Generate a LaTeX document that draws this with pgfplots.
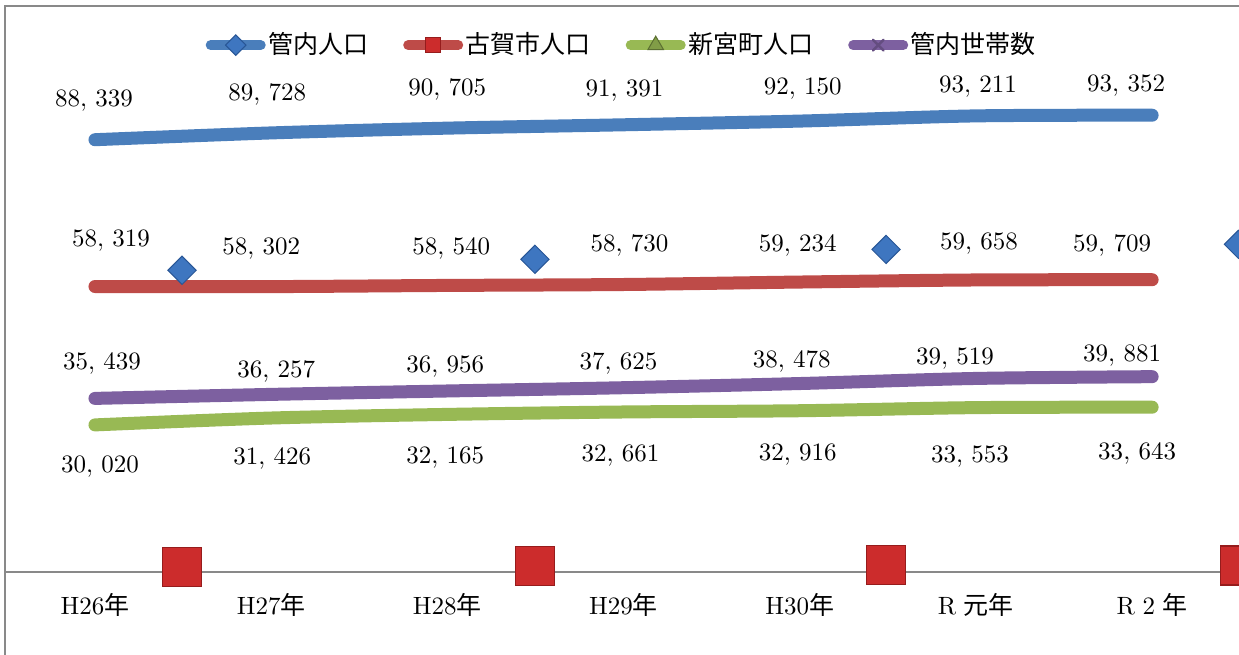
\documentclass[border=0pt]{standalone}
\usepackage{fontspec}
\usepackage{pgfplots}
\usepackage{pgfplotstable}
\pgfplotsset{compat=1.18}
\newfontfamily\cjk{Noto Sans CJK JP}
\definecolor{cblue}{RGB}{74,126,187}
\definecolor{cred}{RGB}{190,75,72}
\definecolor{cgreen}{RGB}{152,185,84}
\definecolor{cpurple}{RGB}{125,96,160}
\definecolor{frame}{RGB}{137,137,137}
\definecolor{dfill}{RGB}{62,118,192}
\definecolor{ddraw}{RGB}{40,86,150}
\definecolor{sfill}{RGB}{204,44,44}
\definecolor{sdraw}{RGB}{150,28,28}

% x y dx(px) dy(px)
\pgfplotstableread{
x y dx dy
0 88339 -1 41.7
1 89728 -4 40.9
2 90705 0 41.1
3 91391 1 36.8
4 92150 3 35.1
5 93211 2 31.9
6 93352 -26 32.2
}\tblue
\pgfplotstableread{
x y dx dy
0 58319 16 48.5
1 58302 -10 40.6
2 58540 4 39.4
3 58730 6 41.5
4 59234 -2 39
5 59658 3 39
6 59709 -40 36.7
}\tred
\pgfplotstableread{
x y dx dy
0 30020 5 -40
1 31426 1 -38
2 32165 -2 -40.6
3 32661 -3 -41
4 32916 -2 -41.3
5 33553 -6 -46.4
6 33643 -15 -43.8
}\tgreen
\pgfplotstableread{
x y dx dy
0 35439 7 37.4
1 36257 5 25.4
2 36956 -2 27
3 37625 -5 26.7
4 38478 -8 24.5
5 39519 -21 21.5
6 39881 -30 23.7
}\tpurple
\pgfplotstableread{
x y
0.494 61630
2.497 63880
4.49 65900
6.49 66940
}\tdiam
\pgfplotstableread{
x y
0.494 1000
2.497 1150
4.49 1400
6.50 1300
}\tsq

\pgfplotsset{
  lab/.style={
    nodes near coords,
    point meta=y,
    visualization depends on={\thisrow{dx}\as\dx},
    visualization depends on={\thisrow{dy}\as\dy},
    every node near coord/.append style={anchor=center, inner sep=0pt, text depth=0pt,
      font=\fontsize{10}{12}\selectfont, text=black,
      xshift=\dx*0.4pt, yshift=\dy*0.4pt},
    nodes near coords={\pgfmathprintnumber[fixed,precision=0,1000 sep={,\,}]{\pgfplotspointmeta}},
  },
  serie/.style={smooth, line width=5.2pt, line cap=round, no marks, forget plot},
}

\begin{document}
\begin{tikzpicture}
\useasboundingbox (0,0) rectangle (495.6pt,262pt);
\draw[frame, line width=0.8pt] (2pt,0pt) -- (2pt,259.4pt) -- (495.6pt,259.4pt);
\draw[frame, line width=0.8pt] (2pt,33.32pt) -- (495.6pt,33.32pt);
\begin{axis}[
  at={(0pt,33.32pt)}, anchor=south west,
  scale only axis, width=495.6pt, height=228.68pt,
  xmin=-0.539, xmax=6.493, ymin=0, ymax=116912,
  axis line style={draw=none}, major tick length=0pt,
  ytick=\empty, xtick={0,1,2,3,4,5,6},
  xticklabels={H26{\cjk 年},H27{\cjk 年},H28{\cjk 年},H29{\cjk 年},H30{\cjk 年},R\hspace{0.3em}{\cjk 元年},R\hspace{0.3em}2\hspace{0.3em}{\cjk 年}},
  xticklabel style={font=\fontsize{10}{12}\selectfont, yshift=-5pt},
  clip=false,
  legend columns=4,
  legend style={draw=none, fill=none, at={(0.5020,0.921)}, anchor=center,
    font=\fontsize{10}{12}\selectfont\cjk,
    /tikz/every odd column/.append style={column sep=0pt},
    /tikz/every even column/.append style={column sep=13pt},
    nodes={inner sep=1pt}},
  legend image code/.code={\draw[mark repeat=2, mark phase=2, #1] plot coordinates {(2pt,0pt) (12pt,0pt) (22pt,0pt)};},
]
% stray markers
\addplot[only marks, mark=square*, mark size=4pt, forget plot,
  mark options={rotate=45, fill=dfill, draw=ddraw, line width=0.4pt}] table[x=x,y=y]{\tdiam};
\addplot[only marks, mark=square*, mark size=7.8pt, forget plot,
  mark options={fill=sfill, draw=sdraw, line width=0.6pt}] table[x=x,y=y]{\tsq};
% series
\addplot[serie, cblue, lab] table[x=x,y=y]{\tblue};
\addplot[serie, cred, lab] table[x=x,y=y]{\tred};
\addplot[serie, cgreen, lab] table[x=x,y=y]{\tgreen};
\addplot[serie, cpurple, lab] table[x=x,y=y]{\tpurple};
% legend
\addlegendimage{cblue, line width=4pt, line cap=round, mark=square*, mark size=2.9pt,
  mark options={rotate=45, fill=dfill, draw=ddraw, line width=0.4pt}}
\addlegendentry{管内人口}
\addlegendimage{cred, line width=4pt, line cap=round, mark=square*, mark size=3pt,
  mark options={fill=sfill, draw=sdraw, line width=0.4pt}}
\addlegendentry{古賀市人口}
\addlegendimage{cgreen, line width=4pt, line cap=round, mark=triangle*, mark size=3.6pt,
  mark options={fill=cgreen!85!black, draw=cgreen!60!black, line width=0.4pt}}
\addlegendentry{新宮町人口}
\addlegendimage{cpurple, line width=4pt, line cap=round, mark=x, mark size=3pt,
  mark options={draw=cpurple!80!black, line width=1pt}}
\addlegendentry{管内世帯数}
\end{axis}
\end{tikzpicture}
\end{document}
